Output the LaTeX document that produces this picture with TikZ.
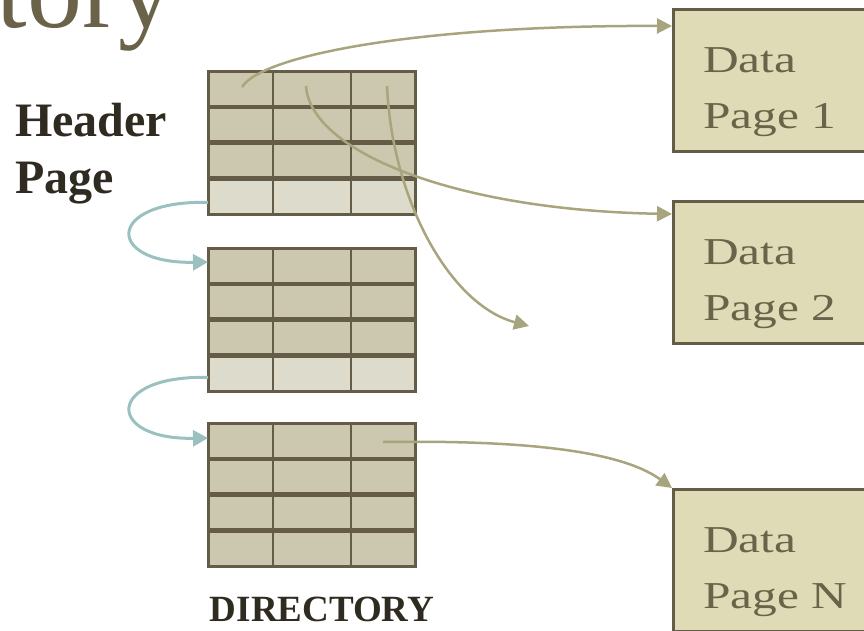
\documentclass[tikz,border=0pt]{standalone}
\usepackage{fontspec}
\setmainfont{Liberation Serif}
\newfontfamily\boxfont[FakeStretch=1.3]{Liberation Serif}
\usetikzlibrary{arrows.meta}
\definecolor{gridline}{RGB}{100,92,70}
\definecolor{cellfill}{RGB}{203,200,175}
\definecolor{cellpale}{RGB}{221,219,203}
\definecolor{pagefill}{RGB}{223,219,183}
\definecolor{pointer}{RGB}{168,165,126}
\definecolor{chain}{RGB}{155,192,192}
\definecolor{titleink}{RGB}{107,99,73}
\definecolor{labelink}{RGB}{48,43,33}
\begin{document}
\begin{tikzpicture}[x=1pt,y=-1pt,
  tablebox/.style={fill=cellfill, minimum width=207.5pt, minimum height=143pt, inner sep=0pt, anchor=north west},
  rowrule/.style={gridline, line width=4.5pt},
  colrule/.style={gridline, line width=2pt},
  tableframe/.style={gridline, line width=3pt},
  databox/.style={fill=pagefill, draw=gridline, line width=2.5pt, minimum width=240pt, minimum height=142pt, anchor=north west, inner sep=0pt},
  datatext/.style={font=\boxfont\fontsize{38}{56}\selectfont, text=titleink, align=left, anchor=base west, inner sep=0pt},
  ptr/.style={pointer, line width=2.5pt, -{Triangle[length=15pt,width=15pt]}},
  link/.style={chain, line width=3pt, -{Triangle[length=15pt,width=16pt]}},
  boldlabel/.style={font=\bfseries, text=labelink, inner sep=0pt},
]
\useasboundingbox (0,0) rectangle (864,630);
\clip (0,0) rectangle (864,630);

% title fragment
\node[font=\fontsize{110}{120}\selectfont, text=titleink, anchor=base east, inner sep=0pt] (title) at (174,27) {tory};

% directory pages
\foreach \nm/\ty/\lastfill in {hdr/71/cellpale, dirA/248/cellpale, dirB/423/cellfill} {
  \node[tablebox] (\nm) at (208,\ty) {};
  \fill[\lastfill] (208,\ty+107.25) rectangle (415.5,\ty+143);
  \foreach \rr in {35.75,71.5,107.25}
    \draw[rowrule] (208,\ty+\rr) -- (415.5,\ty+\rr);
  \foreach \cx in {272.5,350.5}
    \draw[colrule] (\cx,\ty) -- (\cx,\ty+143);
  \draw[tableframe] (\nm.north west) rectangle (\nm.south east);
}

% labels (base anchor of a multi-line node sits on its last line)
\node[boldlabel, font=\bfseries\fontsize{48}{57}\selectfont, align=left, anchor=base west] (hdrlabel) at (15,193) {Header\\Page};
\node[boldlabel, font=\bfseries\fontsize{37}{44}\selectfont, anchor=base] (dirlabel) at (322,621) {DIRECTORY};

% data pages
\node[databox] (pg1) at (672,8) {};
\node[datatext] (pg1t) at (703,128) {Data\\Page 1};
\node[databox] (pg2) at (672,200) {};
\node[datatext] (pg2t) at (703,320) {Data\\Page 2};
\node[databox] (pgN) at (672,488) {};
\node[datatext] (pgNt) at (703,608) {Data\\Page N};

% pointer origins inside directory entries
\coordinate (h11) at (242,87);
\coordinate (h12) at (306,86);
\coordinate (h13) at (387,86);
\coordinate (b13) at (383,442);
\coordinate (loose) at (529,326);

% entry pointers to data pages
\draw[ptr] (h11) .. controls (262,55) and (420,25) .. ([yshift=-18pt]pg1.north west);
\draw[ptr] (h12) .. controls (310,150) and (450,210) .. ([yshift=-14pt]pg2.north west);
\draw[ptr] (h13) .. controls (392,200) and (450,305) .. (loose);
\draw[ptr] (b13) .. controls (520,440) and (620,450) .. (pgN.north west);

% chain between directory pages
\draw[link] ([yshift=12pt]hdr.south west) .. controls (105,200) and (105,264) .. ([yshift=-14pt]dirA.north west);
\draw[link] ([yshift=14pt]dirA.south west) .. controls (105,375) and (105,440) .. ([yshift=-15pt]dirB.north west);
\end{tikzpicture}
\end{document}
